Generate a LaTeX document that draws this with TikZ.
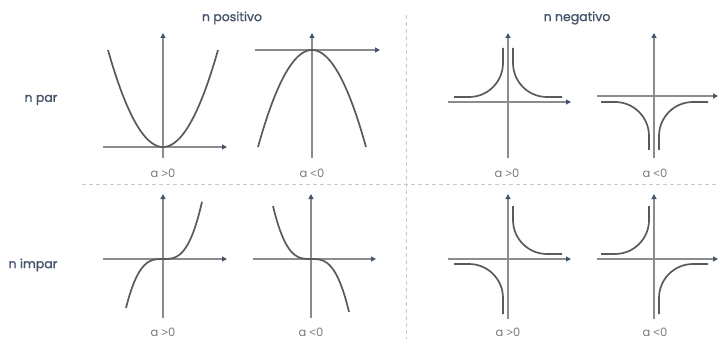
\documentclass[tikz,border=0pt]{standalone}
\usepackage{fontspec}
\setmainfont{Poppins}
\newfontfamily\headfont{Poppins}[FakeBold=1.2]
\newfontfamily\relfont{Liberation Sans}
\newcommand{\gtsign}{{\relfont >}}
\newcommand{\ltsign}{{\relfont <}}
\usetikzlibrary{arrows.meta}
\definecolor{titleblue}{HTML}{44546A}
\definecolor{axisgray}{HTML}{8C8C8C}
\definecolor{curvegray}{HTML}{5A5A5A}
\definecolor{dashgray}{HTML}{C8C8C8}
\definecolor{labelgray}{HTML}{7A7A7A}
\begin{document}
\begin{tikzpicture}[x=1pt,y=-1pt,
  axis/.style={draw=axisgray,line width=1.7pt,-{Triangle[length=5pt,width=5pt,color=titleblue]}},
  curve/.style={draw=curvegray,line width=1.7pt},
  branch/.style={curve,rounded corners=34pt},
  sep/.style={draw=dashgray,line width=1pt,dash pattern=on 4pt off 3pt},
  head/.style={text=titleblue,font=\headfont\fontsize{12.5}{14}\selectfont},
  lab/.style={text=labelgray,font=\fontsize{11.5}{13}\selectfont}]
\useasboundingbox (0,0) rectangle (719,339);
% separators
\draw[sep] (406,15) -- (406,339);
\draw[sep] (82,184) -- (719,184);
% headings
\node[head] (hpos) at (232,18) {n positivo};
\node[head] (hneg) at (577,18) {n negativo};
\node[head] (hpar) at (41,100) {n par};
\node[head] (himp) at (33,265) {n impar};
% labels
\node[lab] (l1) at (163,173) {a \gtsign0};
\node[lab] (l2) at (312,173) {a \ltsign0};
\node[lab] (l3) at (507,173) {a \gtsign0};
\node[lab] (l4) at (655,173) {a \ltsign0};
\node[lab] (l5) at (163,332) {a \gtsign0};
\node[lab] (l6) at (311,332) {a \ltsign0};
\node[lab] (l7) at (508,332) {a \gtsign0};
\node[lab] (l8) at (655,332) {a \ltsign0};
% G1
\draw[axis] (163,158) -- (163,33);
\draw[axis] (103,147) -- (227,147);
\draw[curve] plot[domain=108:218,samples=60,smooth] (\x,{147-97*((\x-163)/55)^2});
% G2
\draw[axis] (312,158) -- (312,33);
\draw[axis] (255,50) -- (380,50);
\draw[curve] plot[domain=258:366,samples=60,smooth] (\x,{50+97*((\x-312)/54)^2});
% G3
\draw[axis] (508,158) -- (508,33);
\draw[axis] (448,102) -- (571,102);
\draw[branch] (454,97) -- (503,97) -- (503,48);
\draw[branch] (513,48) -- (513,97) -- (562,97);
% G4
\draw[axis] (654,158) -- (654,33);
\draw[axis] (597,96) -- (718,96);
\draw[branch] (601,102) -- (649,102) -- (649,150);
\draw[branch] (659,150) -- (659,102) -- (708,102);
% G5
\draw[axis] (163,318) -- (163,194);
\draw[axis] (103,259) -- (227,259);
\draw[curve] plot[domain=126:202,samples=60,smooth] (\x,{259-53*((\x-163)/38)^3});
% G6
\draw[axis] (311,318) -- (311,194);
\draw[axis] (253,259) -- (376,259);
\draw[curve] plot[domain=273:349,samples=60,smooth] (\x,{259+53*((\x-311)/38)^3});
% G7
\draw[axis] (508,319) -- (508,194);
\draw[axis] (448,259) -- (571,259);
\draw[branch] (513,206) -- (513,254) -- (562,254);
\draw[branch] (454,264) -- (503,264) -- (503,314);
% G8
\draw[axis] (654,319) -- (654,194);
\draw[axis] (597,259) -- (718,259);
\draw[branch] (601,254) -- (649,254) -- (649,206);
\draw[branch] (659,314) -- (659,264) -- (708,264);
\end{tikzpicture}
\end{document}
